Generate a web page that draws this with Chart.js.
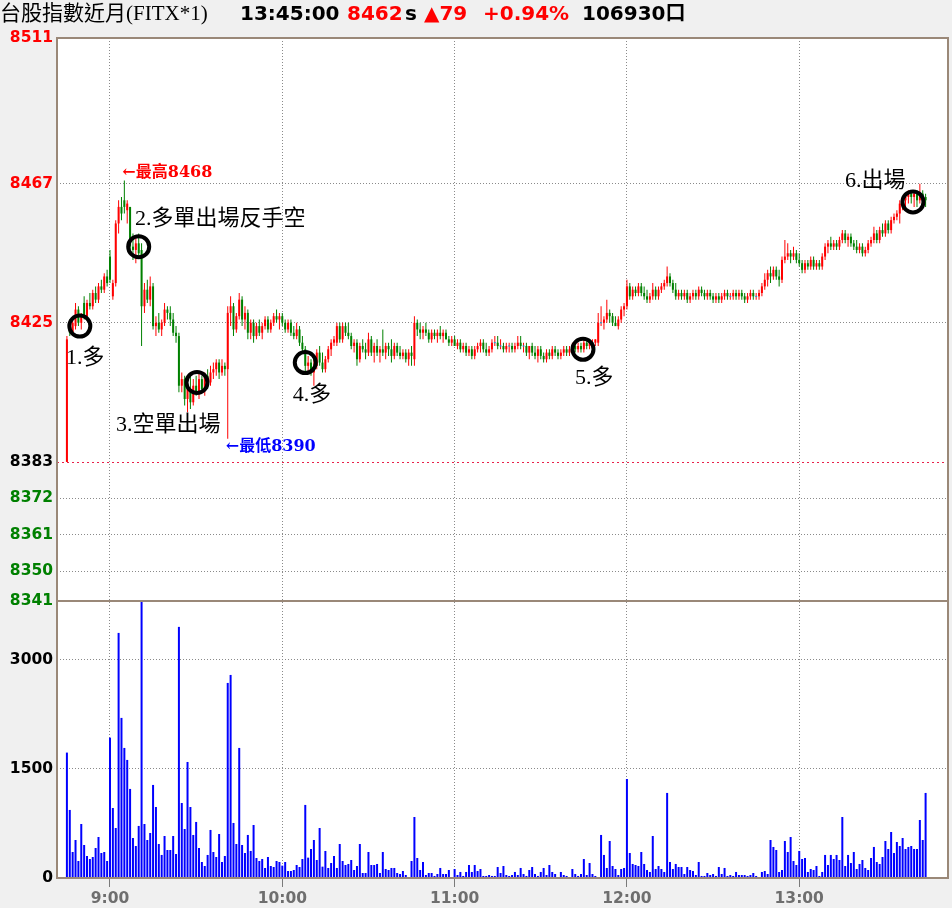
<!DOCTYPE html>
<html>
<head>
<meta charset="utf-8">
<script src="https://cdn.jsdelivr.net/npm/chart.js@4.4.1/dist/chart.umd.min.js"></script>
<style>
  html, body { margin: 0; padding: 0; background: #f0f0f0; }
  canvas { display: block; }
</style>
</head>
<body>
<canvas id="chart" width="952" height="908"></canvas>
<script>
// 1-minute bars, 08:45 .. 13:44 (index = minutes after 08:45)
const openP = [
  8383,8425,8422,8424,8429,8425,8431,8427,8431,8430,
  8434,8432,8436,8435,8439,8445,8433,8437,8455,8460,
  8462,8459,8460,8448,8447,8449,8447,8430,8435,8432,
  8436,8424,8425,8423,8425,8429,8428,8426,8422,8421,
  8406,8408,8402,8405,8401,8406,8404,8408,8405,8409,
  8407,8410,8411,8413,8410,8412,8411,8428,8430,8423,
  8427,8432,8426,8428,8422,8425,8421,8424,8422,8424,
  8426,8423,8425,8427,8426,8427,8425,8423,8425,8422,
  8421,8423,8419,8417,8412,8413,8410,8412,8416,8413,
  8411,8414,8417,8419,8419,8424,8420,8424,8422,8421,
  8418,8419,8414,8418,8417,8416,8420,8416,8418,8416,
  8417,8416,8418,8417,8415,8418,8416,8415,8416,8414,
  8416,8414,8425,8423,8422,8423,8422,8420,8422,8421,
  8422,8421,8422,8420,8419,8420,8418,8419,8417,8418,
  8416,8417,8415,8417,8418,8419,8417,8416,8417,8419,
  8419,8418,8418,8417,8418,8418,8417,8418,8419,8418,
  8418,8416,8418,8416,8415,8417,8415,8414,8416,8415,
  8417,8416,8415,8416,8417,8416,8417,8418,8417,8418,
  8417,8419,8418,8419,8419,8419,8425,8425,8426,8428,
  8427,8425,8424,8426,8429,8430,8436,8433,8435,8434,
  8436,8434,8433,8432,8433,8435,8433,8435,8436,8437,
  8439,8437,8435,8433,8434,8433,8434,8432,8433,8434,
  8433,8435,8434,8433,8434,8433,8432,8433,8432,8433,
  8434,8433,8433,8434,8433,8434,8433,8432,8433,8434,
  8433,8433,8434,8436,8438,8440,8439,8441,8439,8438,
  8444,8445,8446,8445,8446,8444,8443,8441,8443,8442,
  8444,8442,8443,8442,8445,8448,8449,8448,8449,8448,
  8450,8452,8450,8451,8449,8448,8447,8448,8446,8447,
  8449,8450,8452,8450,8453,8452,8455,8453,8456,8457,
  8458,8461,8462,8463,8464,8463,8464,8462,8464,8463
];
const highP = [
  8421,8426,8426,8431,8430,8428,8433,8432,8434,8435,
  8436,8437,8438,8440,8441,8447,8438,8456,8462,8463,
  8468,8462,8460,8452,8451,8452,8449,8437,8438,8439,
  8437,8427,8428,8426,8431,8430,8430,8428,8424,8422,
  8410,8409,8407,8409,8408,8409,8410,8409,8410,8411,
  8412,8413,8414,8414,8414,8413,8430,8433,8431,8428,
  8434,8433,8430,8429,8426,8426,8425,8426,8425,8427,
  8427,8426,8428,8429,8428,8428,8426,8426,8426,8424,
  8425,8424,8421,8418,8415,8414,8414,8417,8418,8416,
  8415,8418,8420,8421,8425,8425,8425,8425,8425,8422,
  8420,8420,8419,8420,8419,8422,8421,8419,8420,8418,
  8423,8419,8419,8420,8419,8419,8418,8417,8417,8417,
  8418,8427,8426,8425,8424,8425,8423,8423,8423,8423,
  8424,8423,8423,8421,8421,8421,8420,8420,8419,8419,
  8418,8418,8418,8419,8420,8420,8419,8418,8420,8421,
  8421,8420,8419,8419,8419,8419,8419,8421,8421,8419,
  8419,8418,8419,8418,8418,8418,8416,8417,8417,8418,
  8418,8417,8417,8418,8418,8418,8419,8419,8419,8419,
  8420,8420,8420,8420,8420,8428,8430,8427,8432,8429,
  8428,8427,8427,8430,8431,8438,8437,8436,8436,8437,
  8437,8436,8435,8434,8437,8436,8436,8437,8438,8442,
  8440,8438,8437,8435,8435,8435,8435,8434,8435,8435,
  8436,8436,8435,8435,8435,8434,8434,8434,8434,8435,
  8435,8434,8435,8435,8435,8435,8434,8434,8435,8435,
  8434,8435,8437,8440,8441,8442,8442,8442,8441,8445,
  8450,8449,8447,8448,8447,8446,8444,8444,8444,8445,
  8445,8444,8444,8446,8449,8450,8451,8450,8450,8451,
  8453,8453,8452,8452,8450,8450,8449,8449,8448,8450,
  8451,8454,8453,8454,8455,8456,8456,8457,8458,8459,
  8462,8463,8464,8465,8465,8465,8465,8467,8465,8464
];
const lowP = [
  8383,8421,8421,8423,8424,8423,8426,8426,8429,8429,
  8431,8431,8434,8434,8436,8437,8432,8436,8452,8456,
  8458,8455,8446,8444,8443,8445,8418,8428,8431,8430,
  8423,8421,8422,8421,8424,8426,8424,8421,8419,8404,
  8404,8400,8398,8399,8400,8403,8402,8404,8403,8405,
  8406,8408,8409,8408,8409,8409,8390,8424,8421,8422,
  8426,8424,8423,8420,8420,8419,8420,8421,8420,8423,
  8422,8422,8424,8425,8423,8424,8422,8422,8421,8420,
  8420,8418,8416,8410,8410,8409,8406,8411,8412,8410,
  8410,8413,8415,8418,8418,8419,8419,8421,8420,8417,
  8416,8412,8413,8416,8414,8415,8415,8413,8415,8413,
  8415,8414,8415,8413,8414,8415,8414,8414,8413,8412,
  8412,8412,8421,8420,8420,8421,8419,8419,8420,8419,
  8420,8419,8420,8418,8418,8418,8417,8416,8416,8415,
  8415,8414,8414,8416,8416,8416,8415,8415,8416,8418,
  8417,8417,8416,8416,8416,8416,8416,8417,8417,8416,
  8415,8414,8415,8414,8413,8414,8413,8413,8414,8414,
  8415,8414,8414,8415,8415,8415,8416,8416,8416,8416,
  8416,8417,8417,8418,8418,8418,8424,8423,8425,8425,
  8424,8424,8423,8425,8427,8429,8432,8432,8433,8433,
  8433,8432,8431,8431,8432,8432,8432,8434,8435,8436,
  8436,8434,8432,8432,8432,8432,8431,8431,8432,8432,
  8432,8433,8432,8432,8432,8431,8431,8431,8431,8432,
  8432,8432,8432,8432,8432,8432,8431,8431,8432,8432,
  8432,8432,8433,8435,8436,8437,8438,8438,8436,8437,
  8443,8444,8443,8444,8443,8442,8440,8440,8441,8441,
  8441,8441,8441,8441,8444,8446,8447,8447,8447,8447,
  8449,8449,8448,8448,8447,8446,8446,8445,8445,8446,
  8448,8449,8449,8449,8451,8451,8452,8452,8455,8456,
  8455,8459,8459,8461,8461,8460,8460,8461,8461,8460
];
const closeP = [
  8420,8422,8425,8429,8425,8427,8427,8431,8430,8434,
  8432,8436,8435,8439,8437,8438,8437,8455,8460,8458,
  8460,8461,8448,8447,8449,8446,8430,8435,8432,8436,
  8424,8425,8423,8425,8429,8428,8426,8422,8421,8406,
  8408,8402,8405,8401,8406,8404,8408,8405,8409,8407,
  8410,8411,8413,8410,8412,8411,8428,8430,8423,8427,
  8432,8426,8428,8422,8425,8421,8424,8422,8424,8426,
  8423,8425,8427,8426,8427,8425,8423,8425,8422,8421,
  8423,8419,8417,8412,8413,8410,8412,8416,8413,8411,
  8414,8417,8419,8420,8424,8420,8424,8422,8421,8418,
  8419,8414,8418,8417,8416,8420,8416,8418,8416,8417,
  8416,8418,8417,8415,8418,8416,8415,8416,8414,8416,
  8415,8425,8423,8422,8423,8422,8420,8422,8421,8422,
  8421,8422,8420,8419,8420,8418,8419,8417,8418,8416,
  8417,8415,8417,8418,8419,8417,8416,8417,8419,8419,
  8418,8418,8417,8418,8418,8417,8418,8419,8418,8418,
  8416,8418,8416,8415,8417,8415,8414,8416,8415,8417,
  8416,8415,8416,8417,8416,8417,8418,8417,8418,8417,
  8419,8418,8419,8419,8420,8425,8425,8426,8428,8427,
  8425,8424,8426,8429,8430,8436,8433,8435,8434,8436,
  8434,8433,8432,8433,8435,8433,8435,8436,8437,8439,
  8437,8435,8433,8434,8433,8434,8432,8433,8434,8433,
  8435,8434,8433,8434,8433,8432,8433,8432,8433,8434,
  8433,8433,8434,8433,8434,8433,8432,8433,8434,8433,
  8433,8434,8436,8438,8440,8439,8441,8439,8438,8444,
  8445,8446,8445,8446,8444,8443,8441,8443,8442,8444,
  8442,8443,8442,8445,8448,8449,8448,8449,8448,8450,
  8452,8450,8451,8449,8448,8447,8448,8446,8447,8449,
  8450,8452,8450,8453,8452,8455,8453,8456,8457,8458,
  8461,8462,8463,8464,8463,8464,8462,8464,8463,8462
];
const volume = [
  1725,936,358,523,234,743,454,303,261,289,
  413,564,344,358,234,1931,963,688,3371,2202,
  1789,1624,1225,550,440,716,3798,743,523,619,
  1280,977,468,317,578,385,385,578,330,3454,
  1032,674,1596,977,592,771,413,220,165,317,
  661,358,289,605,220,303,2683,2793,757,468,
  1789,454,344,592,372,729,275,234,261,138,
  289,165,151,234,220,170,220,96,96,110,
  179,151,261,1005,280,399,523,248,688,156,
  372,138,206,303,138,468,234,179,193,248,
  110,165,468,69,69,358,179,179,193,69,
  358,124,110,138,138,69,55,96,41,14,
  234,839,275,110,220,41,69,69,28,55,
  138,55,55,110,10,124,41,83,28,83,
  179,83,179,96,124,28,28,41,28,28,
  151,69,165,41,28,41,83,41,138,55,
  28,110,151,55,28,83,138,41,179,83,
  55,14,83,41,28,14,124,55,28,55,
  261,41,206,55,28,14,592,317,138,509,
  165,124,41,124,138,1362,344,193,179,165,
  358,193,110,83,578,124,165,124,83,1170,
  220,124,193,151,151,55,151,110,96,41,
  220,28,28,69,41,55,28,151,55,138,
  28,41,28,83,41,41,41,28,41,69,
  28,14,83,96,55,523,427,385,83,110,
  509,358,564,234,179,372,261,275,83,124,
  110,165,28,83,317,179,317,261,317,248,
  839,165,317,206,358,124,193,248,138,110,
  275,427,220,193,289,509,399,633,344,495,
  440,550,399,427,440,399,399,798,523,1170
];

const refPrice = 8383;
const dayHigh = 8468;
const dayLow = 8390;
const priceTicks = [8341, 8350, 8361, 8372, 8383, 8425, 8467, 8511];
const volTicks = [0, 1500, 3000];
const hourTicks = [15, 75, 135, 195, 255];
const hourLabels = ['9:00', '10:00', '11:00', '12:00', '13:00'];

// trade notes drawn on the chart (minute index, price)
const markX = [4.5, 25, 45.3, 83, 179.7, 294.6];
const markY = [8424, 8448, 8407, 8413, 8417, 8461.5];
const noteText = ['1.多', '2.多單出場反手空', '3.空單出場', '4.多', '5.多', '6.出場'];
const noteX = [-0.3, 23.7, 17.1, 78.6, 176.9, 270.9];
const noteY = [8414.4, 8456.3, 8394.2, 8403.2, 8408.3, 8467.8];

const RED = '#ff0000', GREEN = '#008000', CYAN = '#00a8e8', BLUE = '#0000ff';
const FRAME = '#9a8878';

const bodyColor = (i) => closeP[i] > openP[i] ? RED : (closeP[i] < openP[i] ? GREEN : CYAN);
const wickColor = (i) => closeP[i] >= openP[i] ? RED : GREEN;

const minutes = openP.map((_, i) => i);

const chartPlugin = {
  id: 'twChart',
  beforeDraw(chart) {
    const { ctx, chartArea: a } = chart;
    ctx.save();
    ctx.fillStyle = '#ffffff';
    ctx.fillRect(a.left, a.top, a.right - a.left, a.bottom - a.top);
    ctx.restore();
  },
  beforeDatasetsDraw(chart) {
    const { ctx, chartArea: a } = chart;
    const y = Math.round(chart.scales.yP.getPixelForValue(refPrice)) + 0.5;
    ctx.save();
    ctx.strokeStyle = '#e8204a';
    ctx.lineWidth = 1;
    ctx.setLineDash([2, 3]);
    ctx.beginPath();
    ctx.moveTo(a.left, y);
    ctx.lineTo(a.right, y);
    ctx.stroke();
    ctx.restore();
  },
  afterDatasetsDraw(chart) {
    const { ctx } = chart;
    const xs = chart.scales.x, ys = chart.scales.yP;
    ctx.save();
    // circles
    ctx.strokeStyle = '#000000';
    ctx.lineWidth = 4;
    markX.forEach((mx, k) => {
      ctx.beginPath();
      ctx.arc(xs.getPixelForValue(mx), ys.getPixelForValue(markY[k]), 10.5, 0, Math.PI * 2);
      ctx.stroke();
    });
    // notes
    ctx.fillStyle = '#000000';
    ctx.font = '22px "Liberation Serif", "Noto Sans CJK TC", serif';
    ctx.textBaseline = 'middle';
    ctx.textAlign = 'left';
    noteText.forEach((t, k) => {
      ctx.fillText(t, xs.getPixelForValue(noteX[k]), ys.getPixelForValue(noteY[k]));
    });
    // day high / low
    const hiIdx = highP.indexOf(dayHigh), loIdx = lowP.indexOf(dayLow);
    ctx.font = 'bold 16px "DejaVu Serif", "Noto Sans CJK TC", serif';
    ctx.fillStyle = RED;
    ctx.fillText('←最高' + dayHigh, xs.getPixelForValue(hiIdx) - 2, ys.getPixelForValue(dayHigh) - 8);
    ctx.fillStyle = BLUE;
    ctx.fillText('←最低' + dayLow, xs.getPixelForValue(loIdx) - 2, ys.getPixelForValue(dayLow) + 8);
    ctx.restore();
  },
  afterDraw(chart) {
    const { ctx, chartArea: a } = chart;
    const sep = chart.scales.yV.top;
    ctx.save();
    ctx.strokeStyle = FRAME;
    ctx.lineWidth = 2;
    ctx.strokeRect(a.left, a.top, a.right - a.left, a.bottom - a.top);
    ctx.beginPath();
    ctx.moveTo(a.left, sep);
    ctx.lineTo(a.right, sep);
    ctx.stroke();

    // header line
    ctx.textBaseline = 'alphabetic';
    ctx.textAlign = 'left';
    ctx.fillStyle = '#000000';
    ctx.font = '21px "Liberation Serif", "Noto Sans CJK TC", serif';
    ctx.fillText('台股指數近月(FITX*1)', 0, 20);
    const bold = 'bold 20px "DejaVu Sans", "Noto Sans CJK TC", sans-serif';
    const parts = [
      ['13:45:00', 240, '#000000', bold],
      ['8462', 347, RED, bold],
      ['s', 405, '#000000', bold],
      ['▲79', 424, RED, bold],
      ['+0.94%', 483, RED, bold],
      ['106930口', 582, '#000000', bold]
    ];
    parts.forEach(([t, x, c, f]) => {
      ctx.font = f;
      ctx.fillStyle = c;
      ctx.fillText(t, x, 20);
    });
    ctx.restore();
  }
};

const tickFont = { family: 'DejaVu Sans', weight: 'bold', size: 15.5 };

new Chart(document.getElementById('chart'), {
  type: 'bar',
  data: {
    datasets: [
      {
        label: 'body',
        data: minutes.map((i) => ({
          x: i,
          y: openP[i] === closeP[i] ? [openP[i] - 0.15, openP[i] + 0.15] : [openP[i], closeP[i]]
        })),
        backgroundColor: minutes.map(bodyColor),
        barThickness: 2,
        yAxisID: 'yP',
        grouped: false,
        borderWidth: 0,
        inflateAmount: 0
      },
      {
        label: 'wick',
        data: minutes.map((i) => ({ x: i, y: [lowP[i], highP[i]] })),
        backgroundColor: minutes.map(wickColor),
        barThickness: 1,
        yAxisID: 'yP',
        grouped: false,
        borderWidth: 0,
        inflateAmount: 0
      },
      {
        label: 'volume',
        data: minutes.map((i) => ({ x: i, y: volume[i] })),
        backgroundColor: BLUE,
        barThickness: 2,
        yAxisID: 'yV',
        grouped: false,
        borderWidth: 0,
        inflateAmount: 0
      }
    ]
  },
  options: {
    responsive: false,
    animation: false,
    layout: { padding: { top: 38, right: 4, left: 0, bottom: 0 } },
    plugins: { legend: { display: false }, tooltip: { enabled: false } },
    scales: {
      x: {
        type: 'linear',
        offset: false,
        min: -3.45,
        max: 306.8,
        afterBuildTicks: (s) => { s.ticks = hourTicks.map((v) => ({ value: v })); },
        afterFit: (s) => { s.height = 30; },
        ticks: {
          autoSkip: false,
          maxRotation: 0,
          padding: 3,
          color: '#6e6e6e',
          font: tickFont,
          callback: (v) => hourLabels[hourTicks.indexOf(v)]
        },
        grid: { offset: false, color: '#8a8a8a', tickColor: '#7a7a7a', tickLength: 9, tickBorderDash: [] },
        border: { display: false, dash: [1, 2] }
      },
      yV: {
        type: 'linear',
        position: 'left',
        stack: 'panes',
        stackWeight: 277,
        min: 0,
        max: 3810,
        afterBuildTicks: (s) => { s.ticks = volTicks.map((v) => ({ value: v })); },
        afterFit: (s) => { s.width = 57; },
        ticks: { color: '#000000', font: tickFont, padding: 4, callback: (v) => String(v) },
        grid: {
          drawTicks: false,
          color: (c) => (c.tick && c.tick.value === 0 ? 'rgba(0,0,0,0)' : '#8a8a8a')
        },
        border: { display: false, dash: [1, 2] }
      },
      yP: {
        type: 'linear',
        position: 'left',
        stack: 'panes',
        stackWeight: 563,
        min: 8341,
        max: 8511,
        afterBuildTicks: (s) => { s.ticks = priceTicks.map((v) => ({ value: v })); },
        afterFit: (s) => { s.width = 57; },
        ticks: {
          font: tickFont,
          padding: 4,
          callback: (v) => String(v),
          color: (c) => (c.tick.value > refPrice ? RED : (c.tick.value < refPrice ? GREEN : '#000000'))
        },
        grid: {
          drawTicks: false,
          color: (c) => (c.tick && [refPrice, 8511, 8341].includes(c.tick.value) ? 'rgba(0,0,0,0)' : '#8a8a8a')
        },
        border: { display: false, dash: [1, 2] }
      }
    }
  },
  plugins: [chartPlugin]
});
</script>
</body>
</html>
